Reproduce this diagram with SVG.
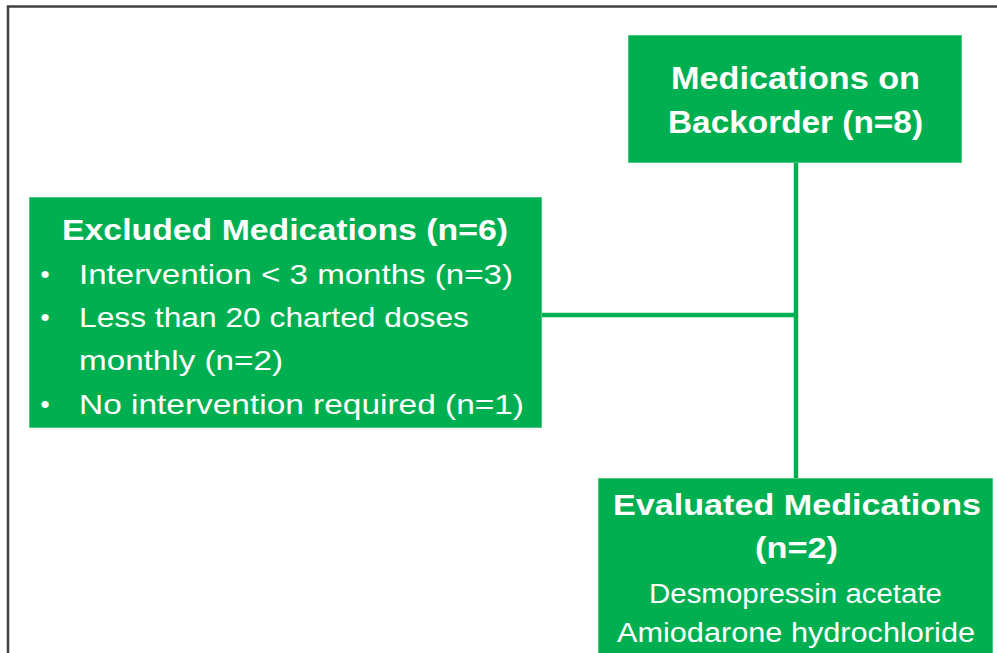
<svg xmlns="http://www.w3.org/2000/svg" width="997" height="653" viewBox="0 0 997 653">
<style>
.box{fill:#00B050;stroke:#4cc97e;stroke-width:1}
.conn{stroke:#00B050;stroke-width:4.5;fill:none}
.frame{stroke:#404040;stroke-width:2.5;fill:none}
text{fill:#ffffff;font-family:"Liberation Sans",Arial,sans-serif}
.b{font-weight:bold}
.c{text-anchor:middle}
</style>
<rect x="0" y="0" width="997" height="653" fill="#ffffff"/>
<path class="frame" d="M8,653 V6.5 H997"/>
<g id="connectors">
<line class="conn" x1="796" y1="163" x2="796" y2="479"/>
<line class="conn" x1="541" y1="315" x2="798" y2="315"/>
</g>
<g id="backorder">
<rect class="box" x="628.5" y="35.5" width="333" height="127"/>
<text class="b" x="671" y="89" font-size="32" textLength="249" lengthAdjust="spacingAndGlyphs">Medications on</text>
<text class="b" x="668" y="133" font-size="32" textLength="255" lengthAdjust="spacingAndGlyphs">Backorder (n=8)</text>
</g>
<g id="excluded">
<rect class="box" x="29.5" y="197.5" width="512" height="230"/>
<text class="b" x="62" y="240" font-size="29" textLength="446" lengthAdjust="spacingAndGlyphs">Excluded Medications (n=6)</text>
<text class="c" x="45" y="283" font-size="26">•</text>
<text x="79" y="284" font-size="28" textLength="434" lengthAdjust="spacingAndGlyphs">Intervention &lt; 3 months (n=3)</text>
<text class="c" x="45" y="326" font-size="26">•</text>
<text x="79" y="327" font-size="28" textLength="390" lengthAdjust="spacingAndGlyphs">Less than 20 charted doses</text>
<text x="79" y="370" font-size="28" textLength="204" lengthAdjust="spacingAndGlyphs">monthly (n=2)</text>
<text class="c" x="45" y="413" font-size="26">•</text>
<text x="79" y="414" font-size="28" textLength="445" lengthAdjust="spacingAndGlyphs">No intervention required (n=1)</text>
</g>
<g id="evaluated">
<rect class="box" x="598.5" y="478.5" width="394" height="180"/>
<text class="b" x="613" y="515" font-size="30" textLength="368" lengthAdjust="spacingAndGlyphs">Evaluated Medications</text>
<text class="b" x="755" y="558" font-size="30" textLength="83" lengthAdjust="spacingAndGlyphs">(n=2)</text>
<text x="649" y="603" font-size="27" textLength="293" lengthAdjust="spacingAndGlyphs">Desmopressin acetate</text>
<text x="617" y="642" font-size="27" textLength="358" lengthAdjust="spacingAndGlyphs">Amiodarone hydrochloride</text>
</g>
</svg>
